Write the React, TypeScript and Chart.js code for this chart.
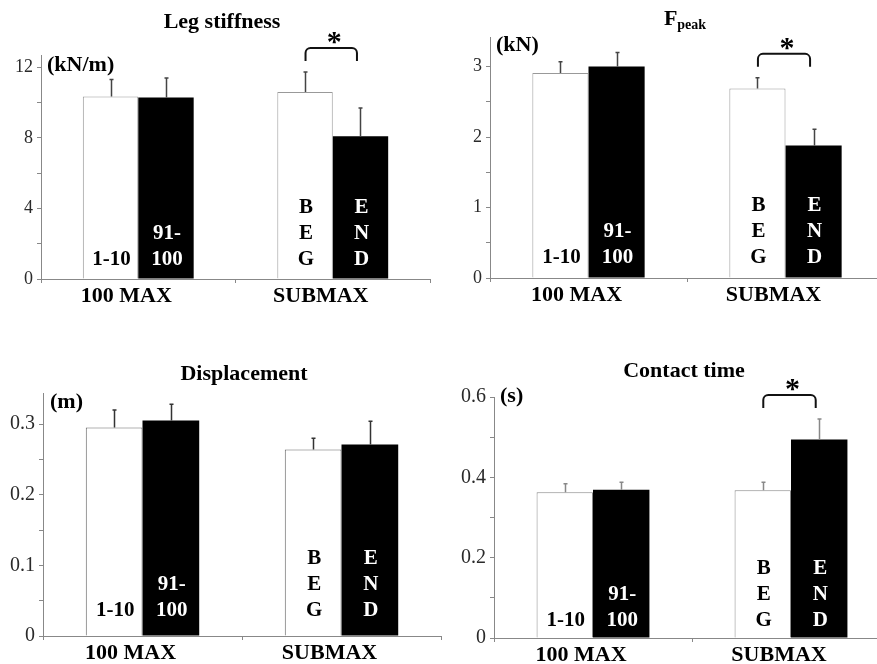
import React, { useEffect, useRef } from 'react';
import { Chart, registerables } from 'chart.js';

Chart.register(...registerables);

const FONT = "'Liberation Serif', 'Times New Roman', Times, serif";

// ---- data ----
const groups = ['100 MAX', 'SUBMAX'];
// lines written inside each bar: [group][series]
const innerLabels = [
  [['1-10'], ['91-', '100']],
  [['B', 'E', 'G'], ['E', 'N', 'D']],
];

// Leg stiffness (kN/m)
const stiffWhite = [10.35, 10.6];
const stiffWhiteErr = [0.96, 1.13];
const stiffBlack = [10.29, 8.1];
const stiffBlackErr = [1.1, 1.6];
const stiffTicks = [0, 2, 4, 6, 8, 10, 12];
const stiffTickLabels = [0, 4, 8, 12];
const stiffSig = [1];

// F peak (kN)
const fpeakWhite = [2.91, 2.69];
const fpeakWhiteErr = [0.16, 0.15];
const fpeakBlack = [3.0, 1.88];
const fpeakBlackErr = [0.2, 0.23];
const fpeakTicks = [0, 0.5, 1, 1.5, 2, 2.5, 3];
const fpeakTickLabels = [0, 1, 2, 3];
const fpeakSig = [1];

// Displacement (m)
const dispWhite = [0.295, 0.264];
const dispWhiteErr = [0.025, 0.016];
const dispBlack = [0.305, 0.271];
const dispBlackErr = [0.023, 0.033];
const dispTicks = [0, 0.05, 0.1, 0.15, 0.2, 0.25, 0.3];
const dispTickLabels = [0, 0.1, 0.2, 0.3];
const dispSig: number[] = [];

// Contact time (s)
const contactWhite = [0.363, 0.368];
const contactWhiteErr = [0.021, 0.02];
const contactBlack = [0.369, 0.494];
const contactBlackErr = [0.019, 0.051];
const contactTicks = [0, 0.1, 0.2, 0.3, 0.4, 0.5, 0.6];
const contactTickLabels = [0, 0.2, 0.4, 0.6];
const contactSig = [1];

// ---- layout / style per panel ----
type Panel = {
  title: string;
  sub?: string;
  unit: string;
  white: number[];
  whiteErr: number[];
  black: number[];
  blackErr: number[];
  ticks: number[];
  tickLabels: number[];
  max: number;
  sig: number[];
  box: { left: number; top: number; width: number };
  area: { left: number; top: number; right: number; bottom: number };
  titlePos: { x: number; y: number };
  unitPos: { x: number; y: number };
  labelBase: number;
  tickSize: number;
  errColor: string;
  borderColor: string;
};

const panels: Panel[] = [
  {
    title: 'Leg stiffness', unit: '(kN/m)',
    white: stiffWhite, whiteErr: stiffWhiteErr, black: stiffBlack, blackErr: stiffBlackErr,
    ticks: stiffTicks, tickLabels: stiffTickLabels, max: 12.7, sig: stiffSig,
    box: { left: 0, top: 0, width: 438 },
    area: { left: 41, top: 55, right: 430, bottom: 279 },
    titlePos: { x: 222, y: 28 }, unitPos: { x: 47, y: 71 }, labelBase: 14, tickSize: 18,
    errColor: '#444', borderColor: '#999',
  },
  {
    title: 'F', sub: 'peak', unit: '(kN)',
    white: fpeakWhite, whiteErr: fpeakWhiteErr, black: fpeakBlack, blackErr: fpeakBlackErr,
    ticks: fpeakTicks, tickLabels: fpeakTickLabels, max: 3.42, sig: fpeakSig,
    box: { left: 438, top: 0, width: 460 },
    area: { left: 490, top: 37, right: 884, bottom: 278 },
    titlePos: { x: 685, y: 25 }, unitPos: { x: 496, y: 51 }, labelBase: 15, tickSize: 18,
    errColor: '#444', borderColor: '#999',
  },
  {
    title: 'Displacement', unit: '(m)',
    white: dispWhite, whiteErr: dispWhiteErr, black: dispBlack, blackErr: dispBlackErr,
    ticks: dispTicks, tickLabels: dispTickLabels, max: 0.344, sig: dispSig,
    box: { left: 0, top: 330, width: 450 },
    area: { left: 43, top: 393, right: 441, bottom: 636 },
    titlePos: { x: 244, y: 380 }, unitPos: { x: 50, y: 408 }, labelBase: 20, tickSize: 20,
    errColor: '#333', borderColor: '#666',
  },
  {
    title: 'Contact time', unit: '(s)',
    white: contactWhite, whiteErr: contactWhiteErr, black: contactBlack, blackErr: contactBlackErr,
    ticks: contactTicks, tickLabels: contactTickLabels, max: 0.6, sig: contactSig,
    box: { left: 438, top: 330, width: 460 },
    area: { left: 494, top: 397, right: 890, bottom: 638 },
    titlePos: { x: 684, y: 377 }, unitPos: { x: 500, y: 402 }, labelBase: 12, tickSize: 20,
    errColor: '#888', borderColor: '#888',
  },
];

const X_AXIS_H = 40;

function makePlugin(cfg: Panel) {
  return {
    id: 'panelDecor',
    afterDatasetsDraw(chart: any) {
      const ctx: CanvasRenderingContext2D = chart.ctx;
      const ys = chart.scales.y;
      const area = chart.chartArea;
      const ox = cfg.box.left;
      const oy = cfg.box.top;
      const series = [
        { v: cfg.white, e: cfg.whiteErr },
        { v: cfg.black, e: cfg.blackErr },
      ];
      ctx.save();
      // error bars
      series.forEach((s, i) => {
        const meta = chart.getDatasetMeta(i);
        s.v.forEach((v, j) => {
          const bar = meta.data[j];
          const x = Math.round(bar.x) + 0.5;
          const yTop = ys.getPixelForValue(v + s.e[j]);
          ctx.strokeStyle = cfg.errColor;
          ctx.lineWidth = 1.5;
          ctx.beginPath();
          ctx.moveTo(x, bar.y);
          ctx.lineTo(x, yTop);
          ctx.moveTo(x - 2, yTop);
          ctx.lineTo(x + 2, yTop);
          ctx.stroke();
        });
      });
      // labels inside bars
      ctx.font = `bold 21px ${FONT}`;
      ctx.textAlign = 'center';
      ctx.textBaseline = 'alphabetic';
      series.forEach((_s, i) => {
        const meta = chart.getDatasetMeta(i);
        groups.forEach((_g, j) => {
          const lines = innerLabels[j][i];
          const bar = meta.data[j];
          ctx.fillStyle = i === 0 ? '#000' : '#fff';
          lines.forEach((ln, k) => {
            const y = area.bottom - cfg.labelBase - (lines.length - 1 - k) * 26;
            ctx.fillText(ln, bar.x + 1, y);
          });
        });
      });
      // significance brackets
      cfg.sig.forEach((j) => {
        const b0 = chart.getDatasetMeta(0).data[j];
        const b1 = chart.getDatasetMeta(1).data[j];
        const topErr = Math.min(
          ys.getPixelForValue(cfg.white[j] + cfg.whiteErr[j]),
          ys.getPixelForValue(cfg.black[j] + cfg.blackErr[j])
        );
        const x1 = b0.x + 0.5;
        const x2 = b1.x - 3.5;
        const yB = topErr - 11;
        const yT = yB - 13;
        const r = 5;
        ctx.strokeStyle = '#111';
        ctx.lineWidth = 2;
        ctx.beginPath();
        ctx.moveTo(x1, yB);
        ctx.lineTo(x1, yT + r);
        ctx.arcTo(x1, yT, x1 + r, yT, r);
        ctx.lineTo(x2 - r, yT);
        ctx.arcTo(x2, yT, x2, yT + r, r);
        ctx.lineTo(x2, yB);
        ctx.stroke();
        ctx.fillStyle = '#000';
        ctx.font = `bold 30px ${FONT}`;
        ctx.textAlign = 'center';
        ctx.fillText('*', (x1 + x2) / 2 + 3, yT - 11.5 + 14.4);
      });
      // title
      ctx.fillStyle = '#000';
      ctx.textAlign = 'left';
      ctx.font = `bold 22px ${FONT}`;
      const tx = cfg.titlePos.x - ox;
      const ty = cfg.titlePos.y - oy;
      if (cfg.sub) {
        const wMain = ctx.measureText(cfg.title).width;
        ctx.font = `bold 14px ${FONT}`;
        const wSub = ctx.measureText(cfg.sub).width;
        const start = tx - (wMain + wSub) / 2;
        ctx.font = `bold 22px ${FONT}`;
        ctx.fillText(cfg.title, start, ty);
        ctx.font = `bold 14px ${FONT}`;
        ctx.fillText(cfg.sub, start + wMain, ty + 4);
      } else {
        ctx.textAlign = 'center';
        ctx.fillText(cfg.title, tx, ty);
      }
      // unit
      ctx.textAlign = 'left';
      ctx.font = `bold 22px ${FONT}`;
      ctx.fillText(cfg.unit, cfg.unitPos.x - ox, cfg.unitPos.y - oy);
      ctx.restore();
    },
  };
}

function PanelChart({ cfg }: { cfg: Panel }) {
  const ref = useRef<HTMLCanvasElement | null>(null);
  const height = cfg.area.bottom - cfg.box.top + X_AXIS_H;
  useEffect(() => {
    if (!ref.current) return;
    const padTop = cfg.area.top - cfg.box.top;
    const padRight = cfg.box.left + cfg.box.width - cfg.area.right;
    const yWidth = cfg.area.left - cfg.box.left;
    const chart = new Chart(ref.current, {
      type: 'bar',
      data: {
        labels: groups,
        datasets: [
          {
            data: cfg.white,
            backgroundColor: '#ffffff',
            borderColor: cfg.borderColor,
            borderWidth: 1,
            barPercentage: 1,
            categoryPercentage: 0.57,
          },
          {
            data: cfg.black,
            backgroundColor: '#000000',
            borderColor: '#000000',
            borderWidth: 0,
            barPercentage: 1,
            categoryPercentage: 0.57,
          },
        ],
      },
      options: {
        responsive: false,
        animation: false,
        events: [],
        layout: { padding: { top: padTop, right: padRight, bottom: 0, left: 0 } },
        plugins: {
          legend: { display: false },
          tooltip: { enabled: false },
          title: { display: false },
        },
        scales: {
          x: {
            type: 'category',
            offset: true,
            grid: { offset: true, drawOnChartArea: false, drawTicks: true, tickLength: 4, color: '#888' },
            border: { color: '#888', width: 1 },
            ticks: {
              font: { family: FONT, size: 22, weight: 'bold' },
              color: '#000',
              padding: 0,
              labelOffset: -12,
              maxRotation: 0,
              autoSkip: false,
            },
            afterFit: (s: any) => {
              s.height = X_AXIS_H;
            },
          },
          y: {
            min: 0,
            max: cfg.max,
            grid: { drawOnChartArea: false, drawTicks: true, tickLength: 4, color: '#888' },
            border: { color: '#888', width: 1 },
            ticks: {
              font: { family: FONT, size: cfg.tickSize },
              color: '#2a2a2a',
              padding: 4,
              callback: (v: any) =>
                cfg.tickLabels.some((t) => Math.abs(t - Number(v)) < 1e-9) ? String(v) : '',
            },
            afterBuildTicks: (s: any) => {
              s.ticks = cfg.ticks.map((v) => ({ value: v }));
            },
            afterFit: (s: any) => {
              s.width = yWidth;
            },
          },
        },
      } as any,
      plugins: [makePlugin(cfg)],
    });
    return () => chart.destroy();
  }, [cfg]);
  return (
    <div style={{ position: 'absolute', left: cfg.box.left, top: cfg.box.top }}>
      <canvas ref={ref} width={cfg.box.width} height={height} style={{ display: 'block' }} />
    </div>
  );
}

export default function App() {
  return (
    <div
      style={{
        position: 'fixed',
        left: 0,
        top: 0,
        width: 877,
        height: 664,
        overflow: 'hidden',
        background: '#fff',
      }}
    >
      {panels.map((p, i) => (
        <PanelChart key={i} cfg={p} />
      ))}
    </div>
  );
}
